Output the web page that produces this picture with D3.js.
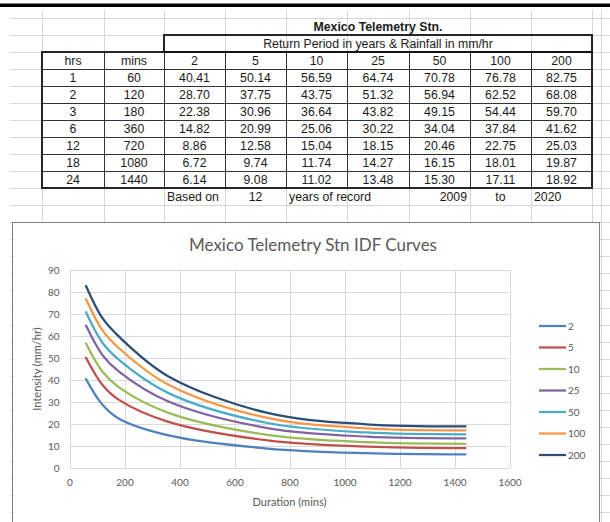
<!DOCTYPE html>
<html><head><meta charset="utf-8">
<script src="https://cdn.jsdelivr.net/npm/d3@7"></script>
<style>body{margin:0;background:#fff;overflow:hidden}svg{display:block}</style>
</head><body>
<svg id="c" width="610" height="522"></svg>
<script>
const hrs = [1, 2, 3, 6, 12, 18, 24];
const mins = [60, 120, 180, 360, 720, 1080, 1440];
const periods = ["2", "5", "10", "25", "50", "100", "200"];
const s2 = [40.41, 28.70, 22.38, 14.82, 8.86, 6.72, 6.14];
const s5 = [50.14, 37.75, 30.96, 20.99, 12.58, 9.74, 9.08];
const s10 = [56.59, 43.75, 36.64, 25.06, 15.04, 11.74, 11.02];
const s25 = [64.74, 51.32, 43.82, 30.22, 18.15, 14.27, 13.48];
const s50 = [70.78, 56.94, 49.15, 34.04, 20.46, 16.15, 15.30];
const s100 = [76.78, 62.52, 54.44, 37.84, 22.75, 18.01, 17.11];
const s200 = [82.75, 68.08, 59.70, 41.62, 25.03, 19.87, 18.92];
const series = [s2, s5, s10, s25, s50, s100, s200];
const colors = ["#4F81BD", "#C0504D", "#9BBB59", "#8064A2", "#4BACC6", "#F79646", "#2C4D75"];
const xTicks = [0, 200, 400, 600, 800, 1000, 1200, 1400, 1600];
const yTicks = [0, 10, 20, 30, 40, 50, 60, 70, 80, 90];
const tableTitle = "Mexico Telemetry Stn.";
const tableSub = "Return Period in years & Rainfall in mm/hr";
const footer = ["Based on", "12", "years of record", "2009", "to", "2020"];
const chartTitle = "Mexico Telemetry Stn IDF Curves";

const svg = d3.select("#c");
// top black bar
svg.append("rect").attr("x", 0).attr("y", 3.5).attr("width", 610).attr("height", 3.5).attr("fill", "#000");

// spreadsheet grid
const colX = [42, 104, 164, 225, 286, 347, 409, 470, 531, 592, 601];
const rowH = 17.03, row0 = 18;
const rowY = d3.range(0, 31).map(i => row0 + i * rowH);
const g0 = svg.append("g").attr("stroke", "#d6d6d6").attr("stroke-width", 1);
rowY.forEach(y => g0.append("line").attr("x1", 10).attr("x2", 610).attr("y1", Math.round(y) + 0.5).attr("y2", Math.round(y) + 0.5));
colX.forEach(x => g0.append("line").attr("x1", x + 0.5).attr("x2", x + 0.5).attr("y1", 10).attr("y2", 522));

// table
const tg = svg.append("g").attr("font-family", "Liberation Sans, Arial, sans-serif").attr("font-size", 12.3).attr("fill", "#1a1a1a");
const ry = i => row0 + i * rowH;
const dy = rowH / 2 + 4.4;
tg.append("text").attr("x", (164 + 592) / 2).attr("y", ry(0) + dy).attr("text-anchor", "middle").attr("font-weight", "bold").text(tableTitle);
tg.append("text").attr("x", (164 + 592) / 2).attr("y", ry(1) + dy).attr("text-anchor", "middle").text(tableSub);
const headers = ["hrs", "mins"].concat(periods);
headers.forEach((h, j) => tg.append("text").attr("x", (colX[j] + colX[j + 1]) / 2).attr("y", ry(2) + dy).attr("text-anchor", "middle").text(h));
hrs.forEach((h, i) => {
  const y = ry(3 + i) + dy;
  const vals = [String(h), String(mins[i])].concat(series.map(s => s[i].toFixed(2)));
  vals.forEach((v, j) => tg.append("text").attr("x", (colX[j] + colX[j + 1]) / 2).attr("y", y).attr("text-anchor", "middle").text(v));
});
// table lines
const lg = svg.append("g").attr("stroke", "#333").attr("fill", "none");
for (let i = 3; i < 10; i++) lg.append("line").attr("x1", 42).attr("x2", 592).attr("y1", Math.round(ry(i)) + 0.5).attr("y2", Math.round(ry(i)) + 0.5).attr("stroke-width", 1);
for (let j = 1; j < 9; j++) lg.append("line").attr("x1", colX[j] + 0.5).attr("x2", colX[j] + 0.5).attr("y1", Math.round(ry(2))).attr("y2", Math.round(ry(10))).attr("stroke-width", 1);
lg.append("rect").attr("x", 164).attr("y", Math.round(ry(1))).attr("width", 428).attr("height", Math.round(ry(2)) - Math.round(ry(1))).attr("stroke-width", 1.8).attr("stroke", "#111");
lg.append("rect").attr("x", 42).attr("y", Math.round(ry(2))).attr("width", 550).attr("height", Math.round(ry(10)) - Math.round(ry(2))).attr("stroke-width", 1.8).attr("stroke", "#111");
// footer
const fy = ry(10) + dy;
tg.append("text").attr("x", 167).attr("y", fy).text(footer[0]);
tg.append("text").attr("x", (225 + 286) / 2).attr("y", fy).attr("text-anchor", "middle").text(footer[1]);
tg.append("text").attr("x", 289).attr("y", fy).text(footer[2]);
tg.append("text").attr("x", 467).attr("y", fy).attr("text-anchor", "end").text(footer[3]);
tg.append("text").attr("x", (470 + 531) / 2).attr("y", fy).attr("text-anchor", "middle").text(footer[4]);
tg.append("text").attr("x", 534).attr("y", fy).text(footer[5]);

// chart box
svg.append("rect").attr("x", 12.5).attr("y", 222.5).attr("width", 587).attr("height", 320).attr("fill", "#fff").attr("stroke", "#7f7f7f").attr("stroke-width", 1);
const font = "Lato, Calibri, sans-serif";
svg.append("text").attr("x", 313).attr("y", 251).attr("text-anchor", "middle").attr("font-family", font).attr("font-size", 17).attr("fill", "#595959").text(chartTitle);

const x = d3.scaleLinear().domain([0, 1600]).range([69.5, 509.5]);
const y = d3.scaleLinear().domain([0, 90]).range([468, 270]);
const grid = svg.append("g").attr("stroke", "#d9d9d9").attr("stroke-width", 1);
yTicks.forEach(t => grid.append("line").attr("x1", x(0)).attr("x2", x(1600)).attr("y1", Math.round(y(t)) + 0.5).attr("y2", Math.round(y(t)) + 0.5));
xTicks.forEach(t => grid.append("line").attr("x1", Math.round(x(t)) + 0.5).attr("x2", Math.round(x(t)) + 0.5).attr("y1", y(90)).attr("y2", y(0)));

const xAxis = svg.append("g").attr("transform", `translate(0,${y(0)})`).call(d3.axisBottom(x).tickValues(xTicks).tickFormat(d3.format("d")).tickSize(0).tickPadding(11));
const yAxis = svg.append("g").attr("transform", `translate(${x(0)},0)`).call(d3.axisLeft(y).tickValues(yTicks).tickFormat(d3.format("d")).tickSize(0).tickPadding(10));
[xAxis, yAxis].forEach(a => { a.select(".domain").remove(); a.selectAll("text").attr("font-family", font).attr("font-size", 10).attr("fill", "#595959"); });

svg.append("text").attr("x", 289.5).attr("y", 506).attr("text-anchor", "middle").attr("font-family", font).attr("font-size", 11).attr("fill", "#595959").text("Duration (mins)");
svg.append("text").attr("transform", "translate(41,369) rotate(-90)").attr("text-anchor", "middle").attr("font-family", font).attr("font-size", 11).attr("fill", "#595959").text("Intensity (mm/hr)");

const line = d3.line().x((d, i) => x(mins[i])).y(d => y(d)).curve(d3.curveCatmullRom.alpha(0.5));
series.forEach((s, k) => svg.append("path").datum(s).attr("d", line).attr("fill", "none").attr("stroke", colors[k]).attr("stroke-width", 2.25).attr("stroke-linejoin", "round").attr("stroke-linecap", "round"));

// legend
periods.forEach((p, k) => {
  const ly = 326 + k * 21.5;
  svg.append("line").attr("x1", 539).attr("x2", 566).attr("y1", ly).attr("y2", ly).attr("stroke", colors[k]).attr("stroke-width", 2.25);
  svg.append("text").attr("x", 568).attr("y", ly + 3.5).attr("font-family", font).attr("font-size", 10).attr("fill", "#595959").text(p);
});
</script>
</body></html>
